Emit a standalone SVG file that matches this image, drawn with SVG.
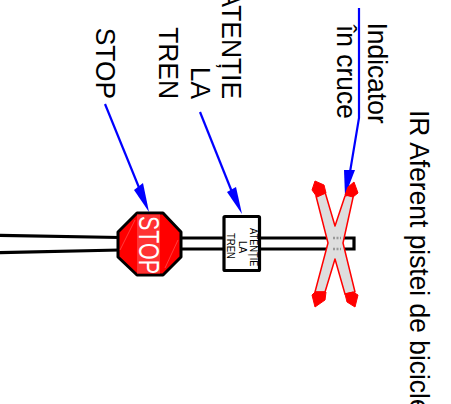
<svg xmlns="http://www.w3.org/2000/svg" width="451" height="404" viewBox="0 0 451 404">
<style>
.t{font-family:"Liberation Sans",Arial,sans-serif;font-size:27.5px;fill:#000}
.s{font-family:"Liberation Sans",Arial,sans-serif;font-size:10px;fill:#000}
.l{fill:none;stroke:#00f;stroke-width:2.200}
.r{fill:none;stroke:#000;stroke-width:3.200}
.b{fill:#00f}
.f{stroke:#f66;stroke-width:.6;fill:none}
</style>
<rect width="451" height="404" fill="#fff"/>
<g id="connectors">
<path class="l" d="M105 104L140 190"/>
<path class="b" d="M134 190L143 183L149 212Z"/>
<path class="l" d="M200 112L232 192"/>
<path class="b" d="M227 192L236 187L242 214Z"/>
<path class="l" d="M359 8V118L350 172"/>
<path class="b" d="M344 170L355 170L345 196Z"/>
</g>
<g id="post">
<path class="r" d="M0 235.300L120 237.500M0 252.700L120 250M180 238H354V249H180"/>
</g>
<g id="cross">
<path d="M316 196L325 192L335 226L345 196L354 193L343 243L355 292L345 294L335 259L325 292L315 292L328 243Z" fill="#dedede" stroke="#f00" stroke-width="1.500" stroke-linejoin="round"/>
<path d="M315 181L324 185L326 193L317 197L312 190ZM354 182L358 193L353 197L345 195L348 187ZM312 295L315 292L326 292L325 300L315 307ZM345 294L353 292L358 295L355 307L347 302Z" fill="#f00" stroke="#f00" stroke-linejoin="round"/>
<path d="M333 238H341M333 249H341" stroke="#999" stroke-width="2.500" stroke-dasharray="2 1.500"/>
</g>
<g id="stop">
<path d="M137 213H163L181 232V257L163 275H137L118 257V232Z" fill="#f00" stroke="#000" stroke-width="3" stroke-linejoin="round"/>
<rect x="137" y="214.500" width="23" height="59" fill="#f33"/>
<path class="f" d="M120 250L135 220M165 268L178 240"/>
<text transform="translate(139 216) rotate(90)" style="font-family:'Liberation Sans',Arial,sans-serif;font-size:29px;fill:#fff" textLength="58" lengthAdjust="spacingAndGlyphs">STOP</text>
</g>
<g id="atentie">
<rect x="224" y="216.500" width="35.500" height="54" fill="#fff" stroke="#000" stroke-width="3.200" rx="1"/>
<text transform="translate(250 228) rotate(90) scale(.93 1)" class="s">ATENȚIE</text>
<text transform="translate(239 241) rotate(90)" class="s">LA</text>
<text transform="translate(227 233) rotate(90) scale(.95 1)" class="s">TREN</text>
</g>
<g id="labels">
<text transform="translate(95.500 99) rotate(90) scale(.96 1)" class="t" text-anchor="end">STOP</text>
<text transform="translate(159 99) rotate(90) scale(.96 1)" class="t" text-anchor="end">TREN</text>
<text transform="translate(190.500 99) rotate(90) scale(.96 1)" class="t" text-anchor="end">LA</text>
<text transform="translate(222 99) rotate(90) scale(.96 1)" class="t" text-anchor="end">ATENȚIE</text>
<text transform="translate(336.500 25) rotate(90) scale(.96 1)" class="t">în cruce</text>
<text transform="translate(368 22.500) rotate(90) scale(.96 1)" class="t">Indicator</text>
<text transform="translate(410 110) rotate(90) scale(.96 1)" class="t">IR Aferent pistei de bicicle</text>
</g>
</svg>
